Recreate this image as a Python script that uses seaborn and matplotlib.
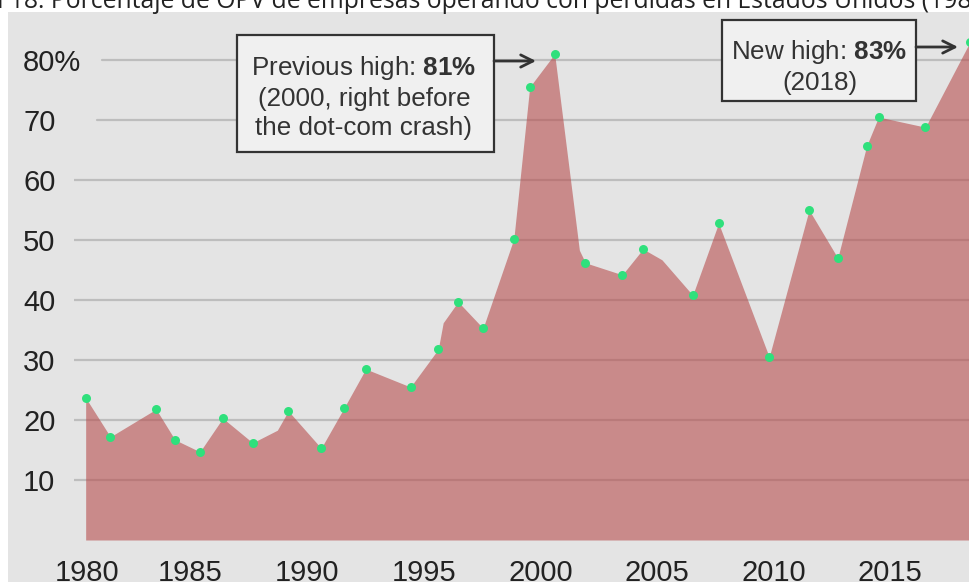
import matplotlib
matplotlib.use("Agg")
import matplotlib.pyplot as plt
from matplotlib.patches import Rectangle, FancyArrowPatch
from matplotlib.transforms import ScaledTranslation
import pandas as pd
import seaborn as sns

# Share of U.S. IPOs from companies operating at a loss (%)
years = [1980.50, 1981.56, 1983.52, 1984.33, 1985.40, 1986.38, 1987.66, 1988.72, 1989.19, 1990.60,
         1991.58, 1992.51, 1994.43, 1995.62, 1995.83, 1996.47, 1997.54, 1998.86, 1999.54, 2000.61,
         2001.67, 2001.93, 2003.51, 2004.40, 2005.21, 2006.53, 2007.64, 2009.81, 2011.52, 2012.75,
         2013.99, 2014.50, 2016.51, 2018.42]
pct = [23.7, 17.2, 21.8, 16.7, 14.7, 20.3, 16.2, 18.3, 21.5, 15.3,
       22.0, 28.5, 25.5, 31.8, 36.2, 39.7, 35.3, 50.2, 75.5, 81.0,
       48.3, 46.2, 44.2, 48.5, 46.7, 40.8, 52.8, 30.5, 55.0, 47.0,
       65.7, 70.5, 68.8, 83.0]
# vertices that carry a dot marker
marked = [True, True, True, True, True, True, True, False, True, True,
          True, True, True, True, False, True, True, True, True, True,
          False, True, True, True, False, True, True, True, True, True,
          True, True, True, True]

x_ticks = [1980, 1985, 1990, 1995, 2000, 2005, 2010, 2015]
x_labels = ["1980", "1985", "1990", "1995", "2000", "2005", "2010", "2015"]
y_ticks = [10, 20, 30, 40, 50, 60, 70, 80]
y_labels = ["10", "20", "30", "40", "50", "60", "70", "80%"]

title = "Figura 18: Porcentaje de OPV de empresas operando con pérdidas en Estados Unidos (1980-2018)"
note_prev = "Previous high: $\\mathbf{81\\%}$\n(2000, right before\nthe dot-com crash)"
note_new = "New high: $\\mathbf{83\\%}$\n(2018)"

df = pd.DataFrame({"year": years, "pct": pct, "marked": marked})

PANEL = "#e4e4e4"
FILL = "#b74e4e"
GREEN = "#2fe07c"
GRID = "#bdbdbd"
INK = "#222222"

sns.set_theme(style="white")
plt.rcParams["font.family"] = ["Liberation Sans", "DejaVu Sans"]
plt.rcParams["mathtext.fontset"] = "custom"
plt.rcParams["mathtext.rm"] = "Liberation Sans"
plt.rcParams["mathtext.bf"] = "Liberation Sans:bold"

W, H = 970, 582
fig = plt.figure(figsize=(W / 100, H / 100), dpi=100, facecolor="white")


def fx(x):
    return x / W


def fy(y):
    return 1 - y / H


# grey panel behind the chart
fig.patches.append(Rectangle((fx(8), 0), 1 - fx(8), fy(12), transform=fig.transFigure,
                             facecolor=PANEL, edgecolor="none", zorder=-1))

ax = fig.add_axes([fx(74), fy(540), 1 - fx(74), fy(12) - fy(540)])
ax.set_facecolor(PANEL)
for s in ax.spines.values():
    s.set_visible(False)
ax.set_xlim(1980.24, 2018.42)
ax.set_ylim(0, 88)

# horizontal rules; the top two start a little further right
grid_start = {80: 0.031, 70: 0.026}
for v in y_ticks:
    ax.axhline(v, xmin=grid_start.get(v, 0.0), xmax=1, color=GRID, lw=1.6, zorder=1)

ax.fill_between(df["year"], df["pct"], 0, color=FILL, alpha=0.6, lw=0, zorder=2)
sns.scatterplot(data=df[df["marked"]], x="year", y="pct", color=GREEN, s=42,
                linewidth=0, ax=ax, zorder=4, clip_on=False)

ax.set_xticks(x_ticks, x_labels)
ax.set_yticks(y_ticks, y_labels)
ax.set_xlabel("")
ax.set_ylabel("")
ax.tick_params(axis="both", length=0, labelsize=21, labelcolor=INK)
ax.tick_params(axis="y", pad=36.7)
ax.tick_params(axis="x", pad=13.5)
for lab in ax.get_yticklabels():
    lab.set_horizontalalignment("left")
# keep the first year label clear of the panel edge
first = ax.get_xticklabels()[0]
first.set_transform(first.get_transform() + ScaledTranslation(13 / 100, 0, fig.dpi_scale_trans))

# callout boxes
fig.patches.append(Rectangle((fx(237), fy(152)), fx(494) - fx(237), fy(35) - fy(152),
                             transform=fig.transFigure, facecolor="#f0f0f0",
                             edgecolor="#333333", lw=1.6, zorder=5))
fig.text(fx(364), fy(54), note_prev, ha="center", va="top", ma="center",
         fontsize=18.7, color="#333333", linespacing=1.26, zorder=6)
fig.patches.append(Rectangle((fx(722), fy(101)), fx(916) - fx(722), fy(20) - fy(101),
                             transform=fig.transFigure, facecolor="#f0f0f0",
                             edgecolor="#333333", lw=1.6, zorder=5))
fig.text(fx(819.5), fy(38), note_new, ha="center", va="top", ma="center",
         fontsize=18.7, color="#333333", linespacing=1.26, zorder=6)

arrow = dict(arrowstyle="->", lw=2.0, color="#333333", mutation_scale=22,
             shrinkA=0, shrinkB=0, zorder=6)
fig.add_artist(FancyArrowPatch((fx(494), fy(61)), (fx(536), fy(61)),
                               transform=fig.transFigure, **arrow))
fig.add_artist(FancyArrowPatch((fx(916), fy(47)), (fx(958), fy(47)),
                               transform=fig.transFigure, **arrow))

# title line, wider than the canvas
fig.canvas.draw()
renderer = fig.canvas.get_renderer()
probe = fig.text(0, 0, " 18: Porcentaje de OPV de empresas operando con pérdidas en Estados Unidos (19",
                 fontsize=10, family=["Open Sans", "DejaVu Sans"])
w10 = probe.get_window_extent(renderer).width
probe.remove()
tsize = 10 * 952 / w10
probe = fig.text(0, 0, "Figura", fontsize=tsize, family=["Open Sans", "DejaVu Sans"])
wpre = probe.get_window_extent(renderer).width
probe.remove()
fig.text(fx(3 - wpre), fy(8), title, ha="left", va="baseline", fontsize=tsize,
         family=["Open Sans", "DejaVu Sans"], color=INK)

fig.savefig("out.png", dpi=100, facecolor="white")
